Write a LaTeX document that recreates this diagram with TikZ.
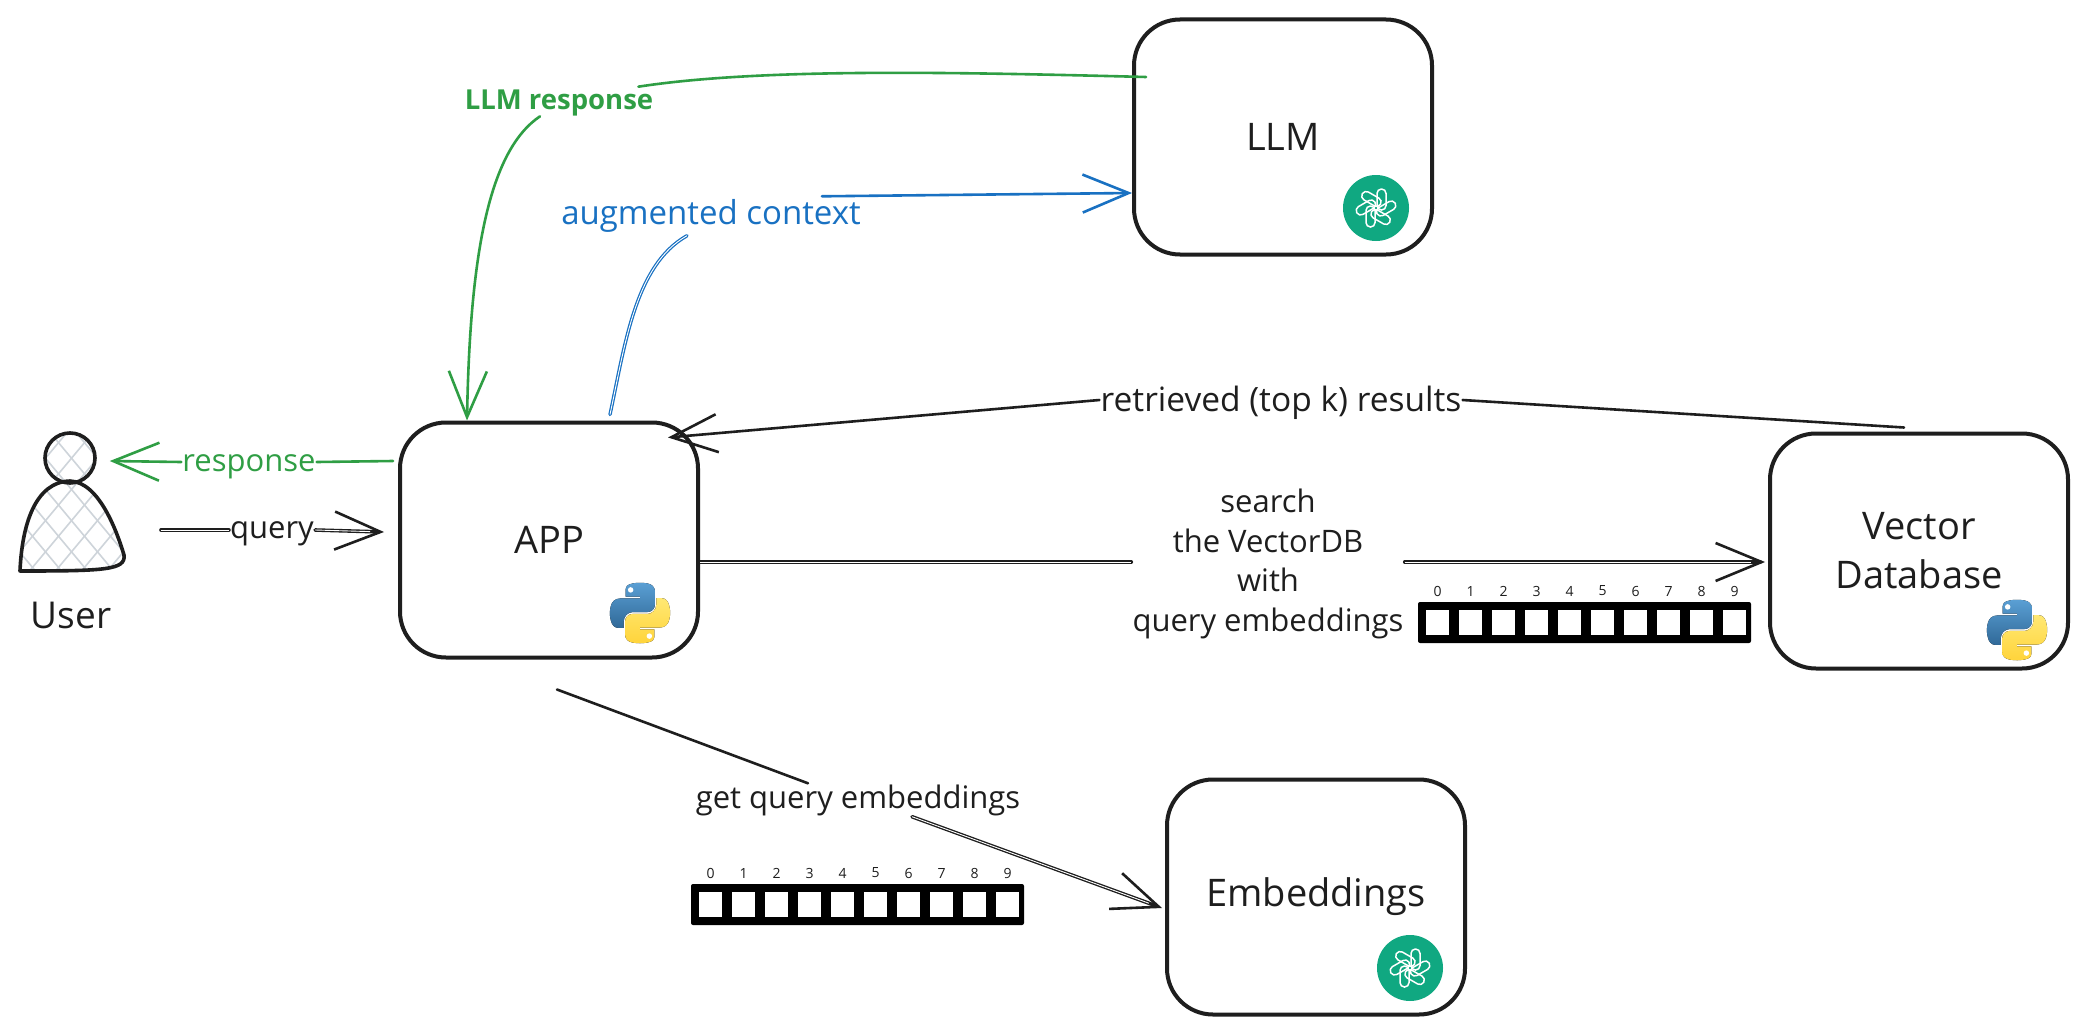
\documentclass[tikz,border=0pt]{standalone}
\usepackage{fontspec}
\setmainfont{Open Sans}
\usetikzlibrary{arrows.meta,calc}
\definecolor{ink}{HTML}{1E1E1E}
\definecolor{grn}{HTML}{2F9E44}
\definecolor{blu}{HTML}{1971C2}
\definecolor{hatchc}{HTML}{CED4DA}
\definecolor{oai}{HTML}{10A881}
\definecolor{pyb1}{HTML}{5A9FD4}
\definecolor{pyb2}{HTML}{306998}
\definecolor{pyy1}{HTML}{FFD43B}
\definecolor{pyy2}{HTML}{FFE873}
\newcommand{\pyhalf}{(54.9,0) .. controls (50.3,0) and (46,.4) .. (42.1,1.1) .. controls (30.8,3.1) and (28.7,7.3) .. (28.7,15)
        -- (28.7,25.2) -- (55.4,25.2) -- (55.4,28.6) -- (18.7,28.6)
        .. controls (10.9,28.6) and (4.1,33.3) .. (2,42.1) .. controls (-.5,52.1) and (-.6,58.4) .. (2,68.8)
        .. controls (3.9,76.6) and (8.4,82.1) .. (16.2,82.1) -- (25.4,82.1) -- (25.4,69.9)
        .. controls (25.4,61) and (33.1,53.2) .. (42.1,53.2) -- (68.8,53.2)
        .. controls (76.2,53.2) and (82.1,47.1) .. (82.1,39.7) -- (82.1,15)
        .. controls (82.1,7.8) and (76.1,2.4) .. (68.8,1.2) .. controls (64.2,.4) and (59.5,0) .. (54.9,0) -- cycle}
\tikzset{
  boxnode/.style={draw=ink,fill=white,line width=4pt,rounded corners=46pt,minimum width=298pt,minimum height=235pt,align=center,inner sep=0pt,text=ink,font=\fontsize{38}{49}\selectfont},
  edgelabel/.style={text=ink,inner sep=1pt,align=center,font=\fontsize{31}{39.5}\selectfont},
  conn/.style={draw=ink,line width=2.6pt,line cap=round},
  twin/.style={line width=3.6pt},
  barb/.style={-{Straight Barb[length=46pt,width=38pt,line width=2.6pt]}},
  innerline/.style={draw=white,line width=.9pt,line cap=butt},
  hatchline/.style={draw=hatchc,line width=1.6pt},
  digit/.style={text=ink,inner sep=0pt,font=\fontsize{14}{14}\selectfont},
  pypic/.pic={
    \begin{scope}[scale=.55,shift={(-55,-55)}]
      \fill[top color=pyb1,bottom color=pyb2] \pyhalf;
      \fill[white] (38,13) circle (5);
      \begin{scope}[shift={(110,110)},xscale=-1,yscale=-1]
        \fill[top color=pyy2,bottom color=pyy1] \pyhalf;
        \fill[white] (38,13) circle (5);
      \end{scope}
    \end{scope}
  },
  oaipic/.pic={
    \fill[oai] (0,0) circle (33);
    \foreach \a in {0,60,...,300}{
      \draw[white,line width=1.5pt,rotate=\a,rounded corners=4.4pt] (1,-19) rectangle (10,2);
    }
  },
  vecpic/.pic={
    \fill[black,rounded corners=2pt] (0,0) rectangle (333,41);
    \foreach \i in {0,...,9}{
      \fill[white] ({8+33*\i},7.5) rectangle ({31+33*\i},33);
      \node[digit] at ({19.5+33*\i},-11) {\i};
    }
  }
}
\begin{document}
\begin{tikzpicture}[x=1pt,y=-1pt]
\useasboundingbox[fill=white] (0,0) rectangle (2088,1033);

% user
\begin{scope}
  \clip (20,571) .. controls (22,525) and (35,482) .. (70,481) .. controls (100,482) and (118,535) .. (124,555) .. controls (126,570) and (105,571) .. (20,571) -- cycle;
  \foreach \i in {-160,-134,...,140}{
    \draw[hatchline] (\i,430) -- (\i+125,580);
    \draw[hatchline] (\i+125,430) -- (\i,580);
  }
\end{scope}
\begin{scope}
  \clip (70,458) circle (24);
  \foreach \i in {-160,-134,...,140}{
    \draw[hatchline] (\i,430) -- (\i+125,580);
    \draw[hatchline] (\i+125,430) -- (\i,580);
  }
\end{scope}
\draw[ink,line width=3.6pt,line join=round] (20,571) .. controls (22,525) and (35,482) .. (70,481) .. controls (100,482) and (118,535) .. (124,555) .. controls (126,570) and (105,571) .. (20,571) -- cycle;
\node[draw=ink,line width=3.6pt,circle,minimum size=50pt,inner sep=0pt] (userhead) at (70,458) {};
\node[text=ink,inner sep=0pt,font=\fontsize{37}{40}\selectfont] (userlabel) at (71,615) {User};

% boxes
\node[boxnode] (llm) at (1283,137) {LLM};
\node[boxnode] (app) at (549,540) {APP};
\node[boxnode] (vdb) at (1919,551) {Vector\\Database};
\node[boxnode] (emb) at (1316,897) {Embeddings};

% logos and arrays
\pic at (640,613) {pypic};
\pic at (2017,630) {pypic};
\pic at (1376,208) {oaipic};
\pic at (1410,968) {oaipic};
\pic at (1418,602) {vecpic};
\pic at (691,884) {vecpic};

% labels
\node[edgelabel,text=grn] (resplabel) at (249,467) {response};
\node[edgelabel] (querylabel) at (272,534) {query};
\node[edgelabel,text=grn,font=\fontsize{27.5}{33}\selectfont\bfseries] (llmlabel) at (559,103) {LLM response};
\node[edgelabel,text=blu,font=\fontsize{33}{39.5}\selectfont] (auglabel) at (711,216) {augmented context};
\node[edgelabel,font=\fontsize{33.5}{39.5}\selectfont] (retlabel) at (1281,403) {retrieved (top k) results};
\node[edgelabel] (searchlabel) at (1268,564) {search\\the VectorDB\\with\\query embeddings};
\node[edgelabel] (emblabel) at (858,800) {get query embeddings};
\coordinate (qstart) at (161,530);

% response
\draw[conn,draw=grn] ($(app.west)+(-5,-79)$) -- ($(resplabel.east)+(0,-5)$);
\draw[conn,draw=grn,barb] ($(resplabel.west)+(0,-5)$) -- ($(userhead.east)+(13,3)$);
% query
\draw[conn,twin] (qstart) -- ($(querylabel.west)+(0,-4)$);
\draw[conn,twin,barb] ($(querylabel.east)+(0,-4)$) -- ($(app.west)+(-14,-8)$);
\draw[innerline] (qstart) -- ($(querylabel.west)+(0,-4)$);
\draw[innerline,shorten >=14pt] ($(querylabel.east)+(0,-4)$) -- ($(app.west)+(-14,-8)$);
% LLM response
\draw[conn,draw=grn] ($(llm.west)+(14,-60)$) .. controls (950,72) and (760,68) .. ($(llmlabel.north east)+(-16,-2)$);
\draw[conn,draw=grn,barb] ($(llmlabel.south)+(-19,-1)$) .. controls (490,150) and (470,250) .. ($(app.north west)+(69,0)$);
% augmented context
\draw[conn,draw=blu,line width=3.4pt] ($(app.north)+(61,-6)$) .. controls (625,345) and (635,265) .. ($(auglabel.south)+(-24,2)$);
\draw[innerline] ($(app.north)+(61,-6)$) .. controls (625,345) and (635,265) .. ($(auglabel.south)+(-24,2)$);
\draw[conn,draw=blu,barb] ($(auglabel.north east)+(-40,-2)$) -- ($(llm.west)+(0,56)$);
% retrieved
\draw[conn] ($(vdb.north)+(-15,-4)$) -- ($(retlabel.east)+(0,-3)$);
\draw[conn,barb] ($(retlabel.west)+(0,-3)$) -- ($(app.north east)+(-32,17)$);
% search
\draw[conn,twin] ($(app.east)+(0,22)$) -- (searchlabel.west |- 0,562);
\draw[conn,twin,barb] (searchlabel.east |- 0,562) -- ($(vdb.west)+(-3,11)$);
\draw[innerline] ($(app.east)+(0,22)$) -- (searchlabel.west |- 0,562);
\draw[innerline,shorten >=14pt] (searchlabel.east |- 0,562) -- ($(vdb.west)+(-3,11)$);
% embeddings
\draw[conn] ($(app.south)+(8,30)$) -- ($(emblabel.north)+(-50,0)$);
\draw[conn,twin,barb] ($(emblabel.south)+(54,0)$) -- ($(emb.west)+(-3,11)$);
\draw[innerline,shorten >=14pt] ($(emblabel.south)+(54,0)$) -- ($(emb.west)+(-3,11)$);
\end{tikzpicture}
\end{document}
